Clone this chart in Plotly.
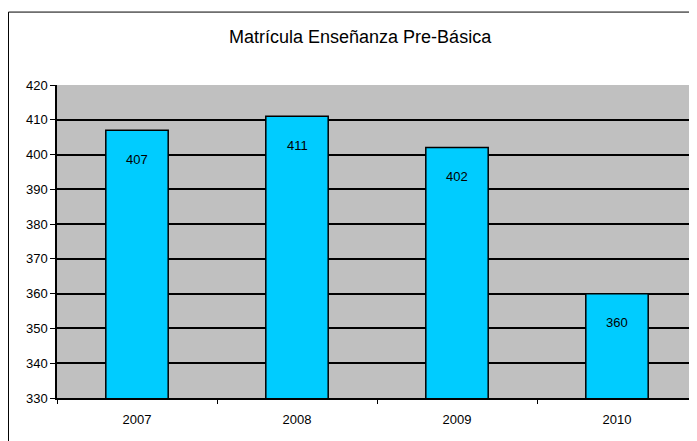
import plotly.graph_objects as go

# datos
years = ['2007', '2008', '2009', '2010']
matricula = [407, 411, 402, 360]
y_ticks = [330, 340, 350, 360, 370, 380, 390, 400, 410, 420]

FONT = 'Liberation Sans, Arial'

fig = go.Figure()

fig.add_trace(go.Bar(
    x=years,
    y=matricula,
    width=0.39,
    marker=dict(color='#00CCFF', line=dict(color='black', width=1.5)),
))

# etiquetas de valor dentro de cada barra
for i, v in enumerate(matricula):
    fig.add_annotation(x=i, y=v, xref='x', yref='y', text=str(v), showarrow=False,
                       yanchor='middle', yshift=-29,
                       font=dict(family=FONT, size=13, color='black'))

# borde exterior del grafico
fig.add_shape(type='rect', xref='paper', yref='paper',
              x0=-0.0758, x1=1.05, y0=-0.3, y1=1.233,
              line=dict(color='black', width=1), layer='above')

fig.update_layout(
    width=689, height=433,
    margin=dict(l=49, r=0, t=77, b=43),
    paper_bgcolor='white',
    plot_bgcolor='#C0C0C0',
    showlegend=False,
    bargap=0.61,
    title=dict(text='Matrícula Enseñanza Pre-Básica', x=0.511, xanchor='center',
               y=1 - 29 / 433, yanchor='middle',
               font=dict(family=FONT, size=18, color='black')),
    font=dict(family=FONT, size=13, color='black'),
)

fig.update_yaxes(range=[330, 420], tickvals=y_ticks, showgrid=True,
                 gridcolor='black', gridwidth=1.5, showline=True,
                 linecolor='black', linewidth=1.5, ticks='outside',
                 ticklen=5, tickcolor='black', zeroline=False)
fig.update_xaxes(type='category', range=[-0.5, 3.5], showline=True,
                 linecolor='black', linewidth=1.5,
                 ticks='outside', tickson='boundaries', ticklen=4,
                 tickcolor='black', showgrid=False, ticklabelstandoff=9)

fig.write_html("out.html")
